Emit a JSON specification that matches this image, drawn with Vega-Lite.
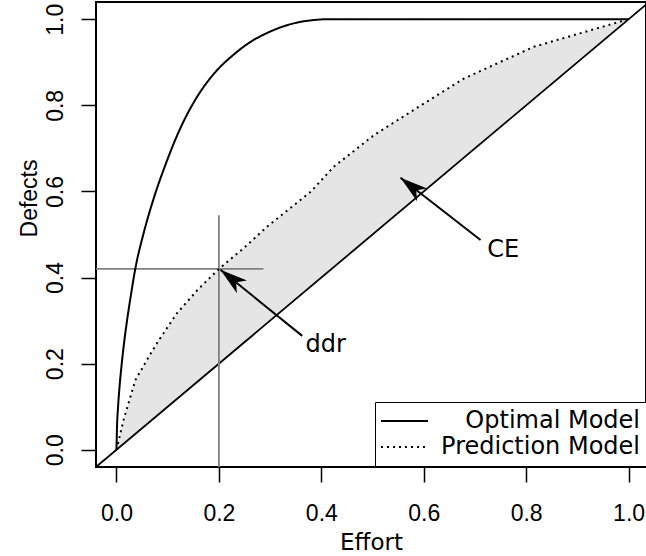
{
  "$schema": "https://vega.github.io/schema/vega-lite/v6.json",
  "width": 550,
  "height": 465,
  "autosize": {"type": "none"},
  "padding": {"left": 96, "top": 2, "right": 0, "bottom": 89},
  "background": "white",
  "config": {
    "view": {"stroke": "black", "strokeWidth": 2},
    "axis": {
      "domain": false, "grid": false,
      "tickColor": "black", "tickWidth": 1.5, "tickSize": 15,
      "labelFont": "Liberation Sans", "labelFontSize": 23, "labelColor": "black",
      "titleFont": "Liberation Sans", "titleFontSize": 23, "titleFontWeight": "normal", "titleColor": "black"
    },
    "legend": {
      "symbolType": "M-2.6,0 L6.8,0", "symbolSize": 100, "symbolStrokeWidth": 2, "symbolStrokeColor": "black",
      "labelFont": "DejaVu Sans", "labelFontSize": 24, "labelColor": "black",
      "labelAlign": "right", "labelOffset": 234, "labelLimit": 400,
      "padding": 7, "rowPadding": 2, "strokeColor": "black", "fillColor": "white"
    }
  },
  "datasets": {
    "curves": [
      {"model": "Optimal Model", "x": 0, "y": 0},
      {"model": "Optimal Model", "x": 0.001, "y": 0.052},
      {"model": "Optimal Model", "x": 0.003, "y": 0.098},
      {"model": "Optimal Model", "x": 0.006, "y": 0.147},
      {"model": "Optimal Model", "x": 0.01, "y": 0.197},
      {"model": "Optimal Model", "x": 0.015, "y": 0.25},
      {"model": "Optimal Model", "x": 0.02, "y": 0.295},
      {"model": "Optimal Model", "x": 0.028, "y": 0.358},
      {"model": "Optimal Model", "x": 0.037, "y": 0.422},
      {"model": "Optimal Model", "x": 0.053, "y": 0.503},
      {"model": "Optimal Model", "x": 0.073, "y": 0.585},
      {"model": "Optimal Model", "x": 0.095, "y": 0.66},
      {"model": "Optimal Model", "x": 0.124, "y": 0.745},
      {"model": "Optimal Model", "x": 0.156, "y": 0.817},
      {"model": "Optimal Model", "x": 0.19, "y": 0.873},
      {"model": "Optimal Model", "x": 0.229, "y": 0.918},
      {"model": "Optimal Model", "x": 0.26, "y": 0.946},
      {"model": "Optimal Model", "x": 0.294, "y": 0.968},
      {"model": "Optimal Model", "x": 0.33, "y": 0.985},
      {"model": "Optimal Model", "x": 0.36, "y": 0.994},
      {"model": "Optimal Model", "x": 0.385, "y": 0.998},
      {"model": "Optimal Model", "x": 0.41, "y": 1.0},
      {"model": "Optimal Model", "x": 1.0, "y": 1.0},
      {"model": "Prediction Model", "x": 0, "y": 0},
      {"model": "Prediction Model", "x": 0.014, "y": 0.07},
      {"model": "Prediction Model", "x": 0.037, "y": 0.162},
      {"model": "Prediction Model", "x": 0.063, "y": 0.216},
      {"model": "Prediction Model", "x": 0.083, "y": 0.255},
      {"model": "Prediction Model", "x": 0.118, "y": 0.317},
      {"model": "Prediction Model", "x": 0.158, "y": 0.371},
      {"model": "Prediction Model", "x": 0.2, "y": 0.42},
      {"model": "Prediction Model", "x": 0.25, "y": 0.47},
      {"model": "Prediction Model", "x": 0.294, "y": 0.518},
      {"model": "Prediction Model", "x": 0.379, "y": 0.599},
      {"model": "Prediction Model", "x": 0.424, "y": 0.657},
      {"model": "Prediction Model", "x": 0.503, "y": 0.731},
      {"model": "Prediction Model", "x": 0.58, "y": 0.789},
      {"model": "Prediction Model", "x": 0.678, "y": 0.862},
      {"model": "Prediction Model", "x": 0.815, "y": 0.936},
      {"model": "Prediction Model", "x": 0.913, "y": 0.97},
      {"model": "Prediction Model", "x": 1.0, "y": 1.0}
    ],
    "diagonal": [
      {"x": -0.04, "y": -0.04},
      {"x": 1.034, "y": 1.034}
    ],
    "crosshair": [
      {"x": 0.2, "y": -0.04, "x2": 0.2, "y2": 0.545},
      {"x": -0.04, "y": 0.42, "x2": 0.287, "y2": 0.42}
    ],
    "shafts": [
      {"x": 0.3627, "y": 0.2645, "x2": 0.203, "y2": 0.418},
      {"x": 0.7109, "y": 0.4872, "x2": 0.5547, "y2": 0.6318}
    ],
    "heads": [
      {"x": 0.203, "y": 0.418},
      {"x": 0.5547, "y": 0.6318}
    ],
    "labels": [
      {"x": 0.369, "y": 0.228, "label": "ddr"},
      {"x": 0.724, "y": 0.4485, "label": "CE"}
    ]
  },
  "encoding": {
    "x": {
      "field": "x", "type": "quantitative",
      "scale": {"domain": [-0.04, 1.034], "nice": false, "zero": false},
      "axis": {
        "values": [0, 0.2, 0.4, 0.6, 0.8, 1.0], "format": ".1f",
        "labelBaseline": "alphabetic", "labelPadding": 38, "labelFlush": false, "labelOverlap": false,
        "title": "Effort", "titleFont": "DejaVu Sans", "titleY": 82, "titleBaseline": "alphabetic"
      }
    },
    "y": {
      "field": "y", "type": "quantitative",
      "scale": {"domain": [-0.04, 1.04], "nice": false, "zero": false},
      "axis": {
        "values": [0, 0.2, 0.4, 0.6, 0.8, 1.0], "format": ".1f",
        "labelAngle": 270, "labelAlign": "center", "labelBaseline": "alphabetic", "labelPadding": 19,
        "labelFlush": false, "labelOverlap": false,
        "title": "Defects", "titleAngle": 270, "titleX": -60, "titleY": 196,
        "titleAlign": "center", "titleBaseline": "alphabetic"
      }
    }
  },
  "layer": [
    {
      "data": {"name": "curves"},
      "transform": [{"filter": "datum.model == 'Prediction Model'"}],
      "mark": {"type": "area", "color": "#e5e5e5", "clip": true},
      "encoding": {"y2": {"field": "x"}}
    },
    {
      "data": {"name": "diagonal"},
      "mark": {"type": "line", "color": "black", "strokeWidth": 1.8, "clip": true},
      "encoding": {}
    },
    {
      "data": {"name": "crosshair"},
      "mark": {"type": "rule", "color": "#808080", "strokeWidth": 1.8},
      "encoding": {"x2": {"field": "x2"}, "y2": {"field": "y2"}}
    },
    {
      "data": {"name": "curves"},
      "transform": [{"filter": "datum.model == 'Optimal Model'"}],
      "mark": {"type": "line", "color": "black", "strokeWidth": 2, "interpolate": "monotone", "clip": true},
      "encoding": {
        "strokeDash": {
          "field": "model", "type": "nominal",
          "scale": {"domain": ["Optimal Model", "Prediction Model"], "range": [[1, 0], [2, 4]]},
          "legend": {"orient": "none", "legendX": 279, "legendY": 400, "title": null}
        }
      }
    },
    {
      "data": {"name": "curves"},
      "transform": [{"filter": "datum.model == 'Prediction Model'"}],
      "mark": {"type": "line", "color": "black", "strokeWidth": 2, "clip": true},
      "encoding": {
        "strokeDash": {
          "field": "model", "type": "nominal",
          "scale": {"domain": ["Optimal Model", "Prediction Model"], "range": [[1, 0], [2, 4]]},
          "legend": {"orient": "none", "legendX": 279, "legendY": 400, "title": null}
        }
      }
    },
    {
      "data": {"name": "shafts"},
      "mark": {"type": "rule", "color": "black", "strokeWidth": 2},
      "encoding": {"x2": {"field": "x2"}, "y2": {"field": "y2"}}
    },
    {
      "data": {"name": "heads"},
      "mark": {"type": "point", "shape": "M0,0 L0.65,2.2 L0,1.6 L-0.65,2.2 Z", "size": 625, "angle": 308.5, "filled": true, "color": "black", "opacity": 1, "strokeWidth": 0}
    },
    {
      "data": {"name": "labels"},
      "mark": {"type": "text", "align": "left", "baseline": "alphabetic", "font": "DejaVu Sans", "fontSize": 24, "color": "black"},
      "encoding": {"text": {"field": "label"}}
    }
  ]
}
